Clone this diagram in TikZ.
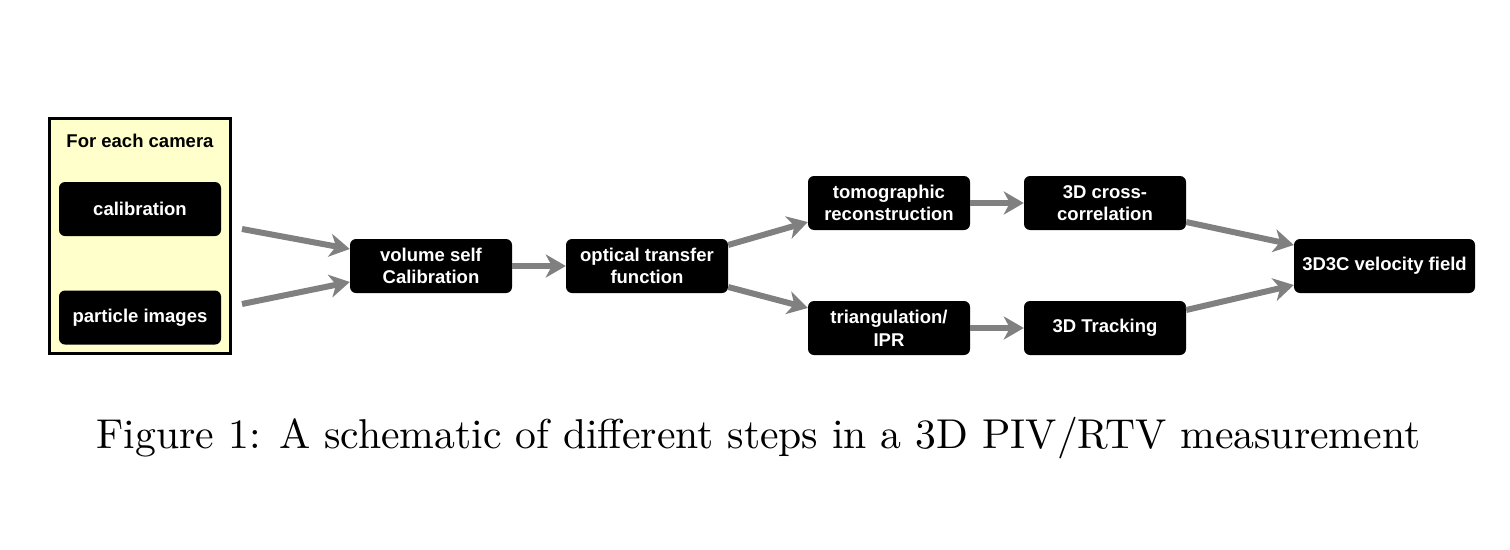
\documentclass[tikz,border=0pt]{standalone}
\usepackage{fontspec}
\newfontfamily\arialf{Liberation Sans}
\newfontfamily\capfont{lmroman10-regular}[Extension=.otf]
\usetikzlibrary{arrows.meta}
\definecolor{camfill}{RGB}{255,255,204}
\definecolor{arrowgray}{RGB}{128,128,128}
\tikzset{
  stepbox/.style={fill=black, rounded corners=6pt, minimum width=162pt, minimum height=54pt,
    inner sep=2pt, align=center, text=white, font=\arialf\bfseries\fontsize{18.5}{22.7}\selectfont},
  flow/.style={draw=arrowgray, line width=6pt, -{Stealth[length=20pt,width=23pt,inset=6pt]}},
}
\begin{document}
\begin{tikzpicture}[x=1pt,y=-1pt]
\useasboundingbox (0,0) rectangle (1510,549);
% camera group
\node[draw=black, line width=3pt, fill=camfill, minimum width=181pt, minimum height=235pt, inner sep=0pt] (cam) at (140,236) {};
\node[font=\arialf\bfseries\fontsize{18.5}{22.7}\selectfont] (camtitle) at (140,141) {For each camera};
\node[stepbox] (calib) at (140,209) {calibration};
\node[stepbox] (parts) at (140,317.5) {particle images};
\coordinate (s1) at (242,229);
\coordinate (s2) at (242,304);
% main chain
\node[stepbox] (vsc) at (431,266) {volume self\\Calibration};
\node[stepbox] (otf) at (647,266) {optical transfer\\function};
\node[stepbox] (tomo) at (889,203) {tomographic\\reconstruction};
\node[stepbox] (tri) at (889,328) {triangulation/\\IPR};
\node[stepbox] (xcorr) at (1105,203) {3D cross-\\correlation};
\node[stepbox] (track) at (1105,328) {3D Tracking};
\node[stepbox, minimum width=181pt] (vel) at (1384.5,266) {3D3C velocity field};
% connectors
\draw[flow] (s1) -- (vsc.west |- 0,249);
\draw[flow] (s2) -- (vsc.west |- 0,282);
\draw[flow] (vsc) -- (otf);
\draw[flow] (otf.east |- 0,245) -- (tomo.west |- 0,222);
\draw[flow] (otf.east |- 0,287) -- (tri.west |- 0,308);
\draw[flow] (tomo) -- (xcorr);
\draw[flow] (tri) -- (track);
\draw[flow] (xcorr.east |- 0,222) -- (vel.west |- 0,245);
\draw[flow] (track.east |- 0,310) -- (vel.west |- 0,285);
% caption
\node[font=\capfont\fontsize{41.7}{50}\selectfont, anchor=base] (caption) at (758.5,448) {Figure 1: A schematic of different steps in a 3D PIV/RTV measurement};
\end{tikzpicture}
\end{document}
